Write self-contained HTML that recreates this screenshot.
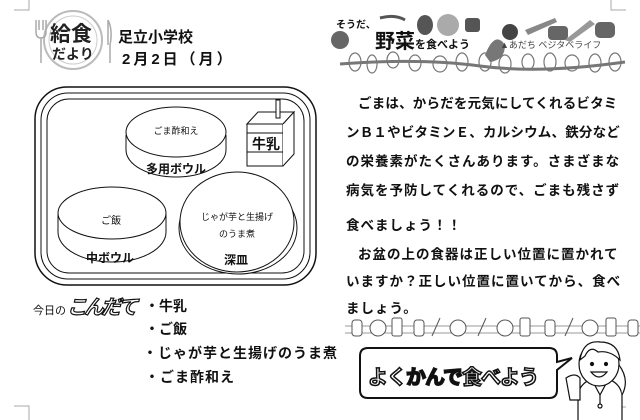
<!DOCTYPE html>
<html><head><meta charset="utf-8"><style>
*{margin:0;padding:0}
body{width:640px;height:420px;background:#fff;position:relative;overflow:hidden;font-family:"Liberation Sans","Noto Sans CJK JP",sans-serif;color:#111}
.t{position:absolute;white-space:nowrap;font-weight:bold}
.p{position:absolute;left:346px;font-size:13.5px;font-weight:bold;letter-spacing:0.2px;white-space:nowrap}
.c{text-align:center;transform:translateX(-50%)}
</style></head><body>
<svg width="640" height="420" style="position:absolute;left:0;top:0" fill="none" stroke="#111">
<path d="M14 10 H29 V0" stroke="#aaa" stroke-width="1"/>
<path d="M14 406 H29 V420" stroke="#aaa" stroke-width="1"/>
<path d="M626 10 H611 V0" stroke="#aaa"/>
<path d="M626 407 H610 V420" stroke="#aaa"/>
<circle cx="73" cy="40" r="29" stroke="#bbb" stroke-width="2"/>
<circle cx="73" cy="40" r="24" stroke="#ccc" stroke-width="1"/>
<path d="M36 20 V32 Q36 38 41 38 V63 M46 20 V32 Q46 38 41 38 M39 20 V30 M43 20 V30" stroke="#aaa" stroke-width="1.5"/>
<path d="M108 20 Q113 30 110 45 V63 M108 20 V45" stroke="#aaa" stroke-width="1.5"/>
<rect x="35" y="87" width="281" height="198" rx="32" stroke-width="1.5"/>
<rect x="41" y="93" width="269" height="186" rx="27" stroke-width="1"/>
<rect x="47" y="99" width="257" height="174" rx="22" stroke-width="1"/>
<path d="M126 135 V150 A50 27 0 0 0 226 150 V135" fill="#fff" stroke-width="1"/>
<ellipse cx="176" cy="132" rx="50" ry="25" fill="#fff" stroke-width="1"/>
<g stroke-width="1">
<path d="M247 124 L258 112 H294 L283 124 Z" fill="#fff"/>
<rect x="247" y="124" width="36" height="42" fill="#fff"/>
<path d="M283 124 L294 112 V154 L283 166" fill="#fff"/>
<rect x="276" y="100" width="4" height="18" fill="#fff"/>
<path d="M247 133 H283 M247 152 H283"/>
</g>
<path d="M58 214 V232 A54 30 0 0 0 166 232 V214" fill="#fff" stroke-width="1"/>
<ellipse cx="112" cy="213" rx="54" ry="26" fill="#fff" stroke-width="1"/>
<ellipse cx="238" cy="228" rx="59" ry="46" fill="#fff" stroke-width="1"/>
<ellipse cx="237" cy="222" rx="57" ry="50" fill="#fff" stroke-width="1"/>
<g fill="#666" stroke="none">
<circle cx="340" cy="40" r="9"/>
<ellipse cx="425" cy="25" rx="8" ry="10" fill="#555"/>
<circle cx="448" cy="25" r="11" fill="#aaa"/>
<rect x="465" y="18" width="15" height="14" rx="3" fill="#555"/>
<path d="M485 55 Q495 30 505 45 Q505 60 490 62 Z" fill="#777"/>
<circle cx="510" cy="32" r="8" fill="#444"/>
<path d="M525 30 L555 18 L557 22 L528 35 Z" fill="#888"/>
<rect x="548" y="26" width="20" height="14" rx="4" fill="#666"/>
<path d="M565 40 L590 20 L595 24 L570 42 Z" fill="#999"/>
<rect x="595" y="22" width="20" height="16" rx="5" fill="#666"/>
<path d="M380 18 Q395 14 405 20" stroke="#555" stroke-width="3" fill="none"/>
</g>
<path d="M340 64 Q420 58 480 66 T625 62" stroke="#777" stroke-width="3"/>
<g stroke="#777" stroke-width="1.2">
<ellipse cx="355" cy="62" rx="6" ry="9"/><ellipse cx="372" cy="64" rx="5" ry="9"/><ellipse cx="393" cy="60" rx="6" ry="8"/>
<ellipse cx="415" cy="63" rx="6" ry="8"/><ellipse cx="440" cy="64" rx="7" ry="8"/><ellipse cx="462" cy="62" rx="6" ry="9"/>
<ellipse cx="485" cy="62" rx="6" ry="9"/><ellipse cx="505" cy="64" rx="6" ry="9"/><ellipse cx="528" cy="62" rx="6" ry="8"/>
<ellipse cx="550" cy="62" rx="6" ry="9"/><ellipse cx="572" cy="63" rx="7" ry="8"/><ellipse cx="595" cy="63" rx="6" ry="9"/><ellipse cx="615" cy="62" rx="6" ry="9"/>
</g>
<path d="M345 326 H640 M345 333 H640" stroke="#999" stroke-width="1"/>
<g stroke="#555" stroke-width="1" fill="#fff">
<rect x="352" y="320" width="10" height="16" rx="3"/><ellipse cx="378" cy="328" rx="8" ry="8"/><rect x="392" y="318" width="10" height="18" rx="2"/>
<rect x="414" y="320" width="10" height="16" rx="3"/><path d="M432 336 L440 318"/><ellipse cx="458" cy="328" rx="8" ry="8"/>
<path d="M478 336 L486 318"/><ellipse cx="505" cy="328" rx="8" ry="8"/><rect x="520" y="318" width="10" height="18" rx="2"/>
<rect x="545" y="320" width="10" height="16" rx="3"/><path d="M565 336 L573 318"/><ellipse cx="590" cy="328" rx="8" ry="8"/>
<rect x="606" y="318" width="10" height="18" rx="2"/><rect x="628" y="320" width="10" height="16" rx="3"/>
</g>
<path d="M368 348 H549 Q557 348 557 356 V362 L572 358 L557 370 V390 Q557 398 549 398 H368 Q360 398 360 390 V356 Q360 348 368 348 Z" stroke-width="2" fill="#fff"/>
<g stroke-width="1.2" fill="#fff">
<path d="M578 420 V395 Q580 382 595 378 H605 Q620 382 622 395 V420"/>
<path d="M592 380 L600 395 L608 380 M600 395 V405"/>
<circle cx="600" cy="406" r="2"/>
<ellipse cx="599" cy="364" rx="20" ry="22"/>
<path d="M580 360 Q583 340 600 342 Q618 342 620 360 Q610 350 598 352 Q590 345 585 356 Z" fill="#fff"/>
<path d="M619 365 Q630 380 622 395"/>
<circle cx="592" cy="364" r="1.5" fill="#111"/><circle cx="606" cy="364" r="1.5" fill="#111"/>
<path d="M591 372 Q599 382 607 372 Z"/>
<path d="M566 378 Q575 372 580 378 V400 H570 Z"/>
</g>
</svg>

<div class="t" style="left:50px;top:18px;font-size:21px;color:#222">給食</div>
<div class="t" style="left:52px;top:44px;font-size:14px;color:#222">だより</div>
<div class="t" style="left:118px;top:26px;font-size:15px">足立小学校</div>
<div class="t" style="left:122px;top:48px;font-size:15px;letter-spacing:3px">2月2日（月）</div>

<div class="t c" style="left:176px;top:124px;font-size:9px;font-weight:normal">ごま酢和え</div>
<div class="t c" style="left:176px;top:160px;font-size:12px">多用ボウル</div>
<div class="t c" style="left:266px;top:134px;font-size:14px">牛乳</div>
<div class="t c" style="left:111px;top:212px;font-size:10px;font-weight:normal">ご飯</div>
<div class="t c" style="left:110px;top:249px;font-size:12px">中ボウル</div>
<div class="t c" style="left:237px;top:210px;font-size:9px;font-weight:normal">じゃが芋と生揚げ</div>
<div class="t c" style="left:237px;top:227px;font-size:9px;font-weight:normal">のうま煮</div>
<div class="t c" style="left:236px;top:251px;font-size:12px">深皿</div>

<div class="t" style="left:33px;top:302px;font-size:11px;font-weight:normal">今日の</div>
<div class="t" style="left:67px;top:291px;font-size:20px;font-style:italic;letter-spacing:-3px;color:#fff;-webkit-text-stroke:1.2px #111">こんだて</div>
<div class="t" style="left:145px;top:296px;font-size:14px">・牛乳</div>
<div class="t" style="left:145px;top:319px;font-size:14px">・ご飯</div>
<div class="t" style="left:143px;top:343px;font-size:14px;letter-spacing:1px">・じゃが芋と生揚げのうま煮</div>
<div class="t" style="left:145px;top:367px;font-size:14px;letter-spacing:1px">・ごま酢和え</div>

<div class="t" style="left:336px;top:16px;font-size:10px">そうだ、</div>
<div class="t" style="left:375px;top:25px;font-size:20px">野菜<span style="font-size:11px">を食べよう</span></div>
<div class="t" style="left:500px;top:38px;font-size:9px;font-weight:normal;color:#444">▲あだち ベジタベライフ</div>

<div class="p" style="left:358px;top:92px;letter-spacing:0.2px">ごまは、からだを元気にしてくれるビタミ</div>
<div class="p" style="top:121px">ンＢ１やビタミンＥ、カルシウム、鉄分など</div>
<div class="p" style="top:150px;letter-spacing:1px">の栄養素がたくさんあります。さまざまな</div>
<div class="p" style="top:179px;letter-spacing:1px">病気を予防してくれるので、ごまも残さず</div>
<div class="p" style="top:214px;letter-spacing:1px">食べましょう！！</div>
<div class="p" style="left:358px;top:243px;letter-spacing:1px">お盆の上の食器は正しい位置に置かれて</div>
<div class="p" style="top:270px;letter-spacing:1px">いますか？正しい位置に置いてから、食べ</div>
<div class="p" style="top:297px;letter-spacing:1px">ましょう。</div>

<div class="t" style="left:368px;top:361px;font-size:20px;letter-spacing:-1px;color:#fff;-webkit-text-stroke:1.5px #111">よく<span style="color:#111">かんで</span>食べよう</div>
</body></html>
